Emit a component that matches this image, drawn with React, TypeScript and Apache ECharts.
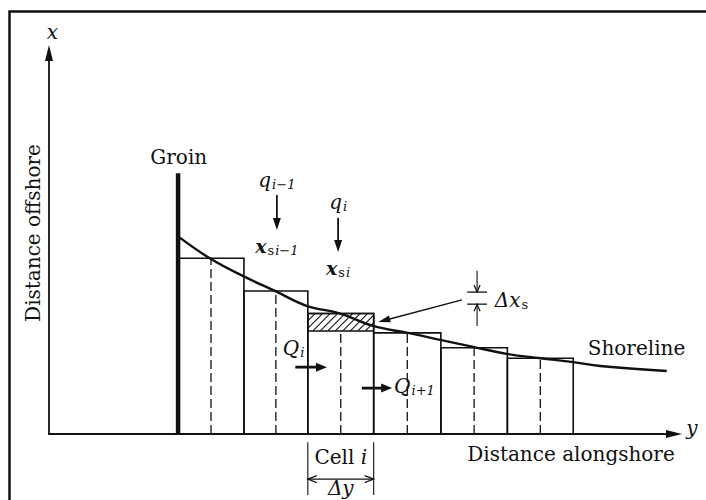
import React, { useEffect, useRef } from 'react';
import * as echarts from 'echarts';

// ---- data (alongshore in cell units, offshore in arbitrary units) ----
const cellEdges = [1.96, 2.96, 3.93, 4.93, 5.95, 6.96, 7.96];
const cellTops = [45.2, 36.8, 31.0, 26.0, 22.2, 19.5];
const cellIIndex = 2;
const cellIOldTop = 26.5;
const groinPos = 1.96;
const groinTop = 67.1;
const shoreAlong = [1.97, 2.46, 2.95, 3.43, 3.92, 4.4, 4.92, 5.45, 5.94, 6.44, 6.95, 7.46, 7.96, 8.37, 9.38];
const shoreOff = [50.7, 45.0, 40.6, 36.8, 32.9, 31.1, 27.8, 26.0, 24.2, 22.4, 20.6, 19.5, 18.5, 17.5, 16.2];

const F = 'DejaVu Serif';
const INK = '#111';

export default function App() {
  const ref = useRef<HTMLDivElement>(null);
  useEffect(() => {
    const chart = echarts.init(ref.current!, null, { renderer: 'svg' });
    const axisCommon = {
      type: 'value',
      axisTick: { show: false },
      axisLabel: { show: false },
      splitLine: { show: false },
      axisLine: {
        show: true,
        onZero: false,
        symbol: ['none', 'triangle'],
        symbolSize: [8, 16],
        lineStyle: { color: INK, width: 1.8 },
      },
    };
    chart.setOption({
      animation: false,
      backgroundColor: '#fff',
      grid: { left: 49, right: 32, top: 53, bottom: 66 },
      xAxis: { ...axisCommon, min: 0, max: 9.49 },
      yAxis: { ...axisCommon, min: 0, max: 98 },
      series: [
        {
          type: 'custom',
          name: 'cells',
          z: 2,
          data: cellTops.map((t, i) => [cellEdges[i], cellEdges[i + 1], t, i === cellIIndex ? cellIOldTop : t]),
          renderItem: (params: any, api: any) => {
            const l = api.value(0), r = api.value(1), t = api.value(2), d = api.value(3);
            const p0 = api.coord([l, 0]);
            const p1 = api.coord([r, t]);
            const m0 = api.coord([(l + r) / 2, 0]);
            const m1 = api.coord([(l + r) / 2, d]);
            return {
              type: 'group',
              children: [
                {
                  type: 'rect',
                  shape: { x: p0[0], y: p1[1], width: p1[0] - p0[0], height: p0[1] - p1[1] },
                  style: { fill: 'none', stroke: INK, lineWidth: 1.6 },
                },
                {
                  type: 'line',
                  shape: { x1: m0[0], y1: m0[1], x2: m1[0], y2: m1[1] },
                  style: { stroke: INK, lineWidth: 1.3, lineDash: [9, 4] },
                },
              ],
            };
          },
        },
        {
          type: 'custom',
          name: 'hatch',
          z: 3,
          data: [[cellEdges[cellIIndex], cellEdges[cellIIndex + 1], cellIOldTop, cellTops[cellIIndex]]],
          renderItem: (params: any, api: any) => {
            const a = api.coord([api.value(0), api.value(2)]);
            const b = api.coord([api.value(1), api.value(3)]);
            const x0 = a[0], x1 = b[0], yb = a[1], yt = b[1];
            const h = yb - yt;
            const children: any[] = [
              {
                type: 'rect',
                shape: { x: x0, y: yt, width: x1 - x0, height: h },
                style: { fill: 'none', stroke: INK, lineWidth: 1.6 },
              },
            ];
            const step = 7.5;
            for (let c = x0 - h; c < x1; c += step) {
              const tA = Math.max(0, (x0 - c) / h);
              const tB = Math.min(1, (x1 - c) / h);
              if (tB <= tA) continue;
              children.push({
                type: 'line',
                shape: { x1: c + tA * h, y1: yb - tA * h, x2: c + tB * h, y2: yb - tB * h },
                style: { stroke: INK, lineWidth: 1.1 },
              });
            }
            return { type: 'group', children };
          },
        },
        {
          type: 'line',
          name: 'groin',
          z: 4,
          symbol: 'none',
          data: [[groinPos, 0], [groinPos, groinTop]],
          lineStyle: { color: INK, width: 4.5 },
        },
        {
          type: 'line',
          name: 'shoreline',
          z: 5,
          symbol: 'none',
          smooth: 0.4,
          data: shoreAlong.map((v, i) => [v, shoreOff[i]]),
          lineStyle: { color: INK, width: 2.4 },
        },
      ],
    });

    const P = (x: number, y: number) => chart.convertToPixel({ gridIndex: 0 }, [x, y]) as number[];
    const g: any[] = [];
    const rich = {
      m: { fontFamily: F, fontStyle: 'italic', fontSize: 20, fill: INK },
      b: { fontFamily: F, fontStyle: 'italic', fontWeight: 'bold', fontSize: 19, fill: INK },
      s: { fontFamily: F, fontStyle: 'italic', fontSize: 13, fill: INK, padding: [9, 0, 0, 1] },
      u: { fontFamily: F, fontSize: 13, fill: INK, padding: [9, 0, 0, 1] },
      r: { fontFamily: F, fontSize: 20, fill: INK },
    };
    const text = (x: number, y: number, t: string, align = 'center', extra: any = {}) => {
      const p = P(x, y);
      g.push({
        type: 'text',
        x: p[0],
        y: p[1],
        z: 10,
        ...extra,
        style: { text: t, align, verticalAlign: 'middle', fontFamily: F, fontSize: 20, fill: INK, rich },
      });
    };
    const seg = (a: number[], b: number[], lw = 1.4) =>
      g.push({ type: 'line', z: 10, shape: { x1: a[0], y1: a[1], x2: b[0], y2: b[1] }, style: { stroke: INK, lineWidth: lw } });
    const arrow = (ax: number, ay: number, bx: number, by: number, head = 11, halfW = 4, lw = 1.6) => {
      const a = P(ax, ay), b = P(bx, by);
      const dx = b[0] - a[0], dy = b[1] - a[1];
      const L = Math.hypot(dx, dy);
      const ux = dx / L, uy = dy / L;
      const base = [b[0] - ux * head, b[1] - uy * head];
      const px = -uy, py = ux;
      seg(a, [b[0] - ux * head * 0.5, b[1] - uy * head * 0.5], lw);
      g.push({
        type: 'polygon',
        z: 10,
        shape: { points: [[b[0], b[1]], [base[0] + px * halfW, base[1] + py * halfW], [base[0] - px * halfW, base[1] - py * halfW]] },
        style: { fill: INK },
      });
    };
    const chevron = (tip: number[], dir: number[], len = 7, halfW = 3.5) => {
      const bx = tip[0] - dir[0] * len, by = tip[1] - dir[1] * len;
      const px = -dir[1], py = dir[0];
      g.push({
        type: 'polyline',
        z: 10,
        shape: { points: [[bx + px * halfW, by + py * halfW], tip, [bx - px * halfW, by - py * halfW]] },
        style: { stroke: INK, lineWidth: 1.2, fill: 'none' },
      });
    };

    // frame of the scanned page
    g.push({ type: 'polyline', z: 10, shape: { points: [[9.5, 500], [9.5, 11.5], [706, 11.5]] }, style: { stroke: INK, lineWidth: 2.5, fill: 'none' } });

    // axis names
    text(0.05, 103.4, '{m|x}', 'center');
    text(9.76, 1.5, '{m|y}', 'center');
    const off = P(-0.24, 51.7);
    g.push({
      type: 'text', x: off[0], y: off[1], rotation: Math.PI / 2, z: 10,
      style: { text: 'Distance offshore', align: 'center', verticalAlign: 'middle', fontFamily: F, fontSize: 20, fill: INK },
    });
    text(6.35, -5.1, 'Distance alongshore', 'left');

    text(1.97, 71.2, 'Groin');
    text(3.46, 65.3, '{m|q}{s|i−1}');
    arrow(3.46, 61.5, 3.46, 52.5, 12, 4, 1.8);
    text(3.46, 48.4, '{b|x}{u|s}{s|i−1}');
    text(4.39, 59.7, '{m|q}{s|i}');
    arrow(4.39, 55.6, 4.39, 46.8, 12, 4, 1.8);
    text(4.39, 42.7, '{b|x}{u|s}{s|i}');

    // Δx_s marker
    seg(P(6.35, 36.5), P(6.65, 36.5), 1.3);
    seg(P(6.35, 33.4), P(6.65, 33.4), 1.3);
    seg(P(6.5, 42.0), P(6.5, 36.5), 1.1);
    seg(P(6.5, 27.8), P(6.5, 33.4), 1.1);
    chevron(P(6.5, 36.5), [0, 1], 7, 3);
    chevron(P(6.5, 33.4), [0, -1], 7, 3);
    text(6.77, 34.5, '{m|Δx}{u|s}', 'left');
    arrow(6.27, 34.5, 5.0, 28.8, 12, 3.5, 1.4);

    // transport
    text(3.55, 22.1, '{m|Q}{s|i}', 'left');
    arrow(3.74, 17.2, 4.22, 17.2, 11, 4.5, 2.8);
    arrow(4.75, 11.8, 5.21, 11.8, 11, 4.5, 2.8);
    text(5.24, 12.3, '{m|Q}{s|i+1}', 'left');

    text(8.18, 22.1, 'Shoreline', 'left');

    // cell i bracket
    const cl = cellEdges[cellIIndex], cr = cellEdges[cellIIndex + 1];
    seg(P(cl, -2.1), P(cl, -15.7), 1.1);
    seg(P(cr, -2.1), P(cr, -15.7), 1.1);
    text((cl + cr) / 2, -5.9, '{r|Cell }{m|i}');
    const dl = P(cl, -11.6), dr = P(cr, -11.6);
    seg(dl, dr, 1.1);
    chevron(dl, [-1, 0], 9, 3.5);
    chevron(dr, [1, 0], 9, 3.5);
    text((cl + cr) / 2, -13.9, '{m|Δy}');

    chart.setOption({ graphic: g });
    return () => chart.dispose();
  }, []);
  return <div ref={ref} style={{ position: 'fixed', left: 0, top: 0, width: 706, height: 500, background: '#fff' }} />;
}
